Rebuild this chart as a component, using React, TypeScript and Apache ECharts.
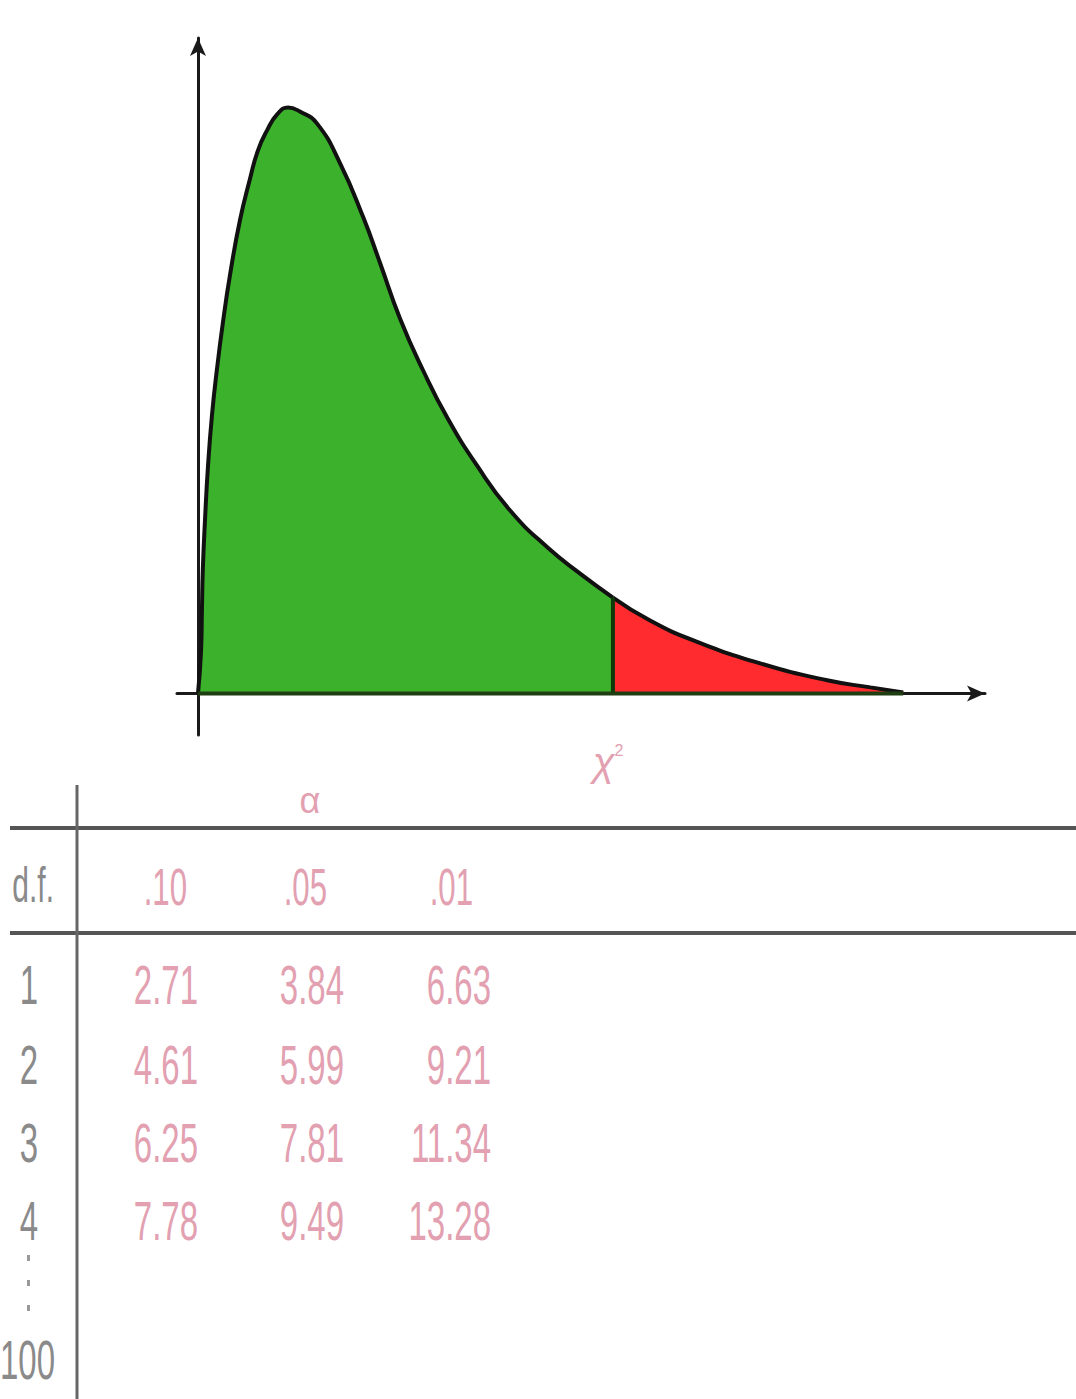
import React, { useEffect, useRef } from "react";
import * as echarts from "echarts";

// Curve: [chi-square value, density]
const curveX = [0, 0.07, 0.09, 0.11, 0.16, 0.23, 0.32, 0.43, 0.57, 0.73, 0.96, 1.19, 1.37, 1.58, 1.81, 2.06, 2.33, 2.72, 3.25, 3.78, 4.16, 4.62, 5.15, 5.7, 6.38, 7.14, 7.99, 8.74, 9.49, 10.34, 11.33, 12.86, 14.39, 15.38, 16.13];
const curveY = [0, 0.0134, 0.026, 0.0385, 0.0541, 0.0713, 0.087, 0.101, 0.116, 0.1307, 0.148, 0.161, 0.1698, 0.1761, 0.1811, 0.1833, 0.182, 0.1783, 0.1658, 0.1489, 0.1348, 0.1173, 0.101, 0.0863, 0.0713, 0.0572, 0.0457, 0.0375, 0.03, 0.0228, 0.0166, 0.0094, 0.0041, 0.0019, 0.0003];
const criticalValue = 9.49;

// Table
const alphaHeaders = [".10", ".05", ".01"];
const dfLabels = ["1", "2", "3", "4"];
const col10 = ["2.71", "4.61", "6.25", "7.78"];
const col05 = ["3.84", "5.99", "7.81", "9.49"];
const col01 = ["6.63", "9.21", "11.34", "13.28"];
const lastDf = "100";

const GREEN = "#3cb22c";
const RED = "#ff2b2f";
const PINK = "#e2a0b1";
const GRAY = "#8a8a8a";
const LINE = "#555555";

export default function App() {
  const ref = useRef<HTMLDivElement>(null);
  useEffect(() => {
    if (!ref.current) return;
    const chart = echarts.init(ref.current, null, { renderer: "svg" });
    const pts = curveX.map((x, i) => [x, curveY[i]]);
    const green = pts.filter((p) => p[0] <= criticalValue);
    const red = pts.filter((p) => p[0] >= criticalValue);
    const critY = curveY[curveX.indexOf(criticalValue)];

    const font = "'Liberation Sans', Arial, sans-serif";
    const texts: any[] = [];
    const numText = (t: string, x: number, y: number, color: string, size: number, align = "right") => ({
      type: "text",
      x,
      y,
      scaleX: 0.6,
      style: {
        text: t,
        x: 0,
        y: 0,
        fill: color,
        font: `${size}px ${font}`,
        align,
        verticalAlign: "middle",
      },
      z: 10,
    });
    const colRight = [198, 344, 491];
    const headRight = [187, 327, 473];
    const rowY = [985, 1065, 1143, 1221];
    alphaHeaders.forEach((h, i) => texts.push(numText(h, headRight[i], 887, PINK, 52)));
    [col10, col05, col01].forEach((col, c) =>
      col.forEach((v, r) => texts.push(numText(v, colRight[c], rowY[r], PINK, 55)))
    );
    dfLabels.forEach((d, r) => texts.push(numText(d, 38, rowY[r], GRAY, 55)));
    texts.push(numText(lastDf, 55, 1360, GRAY, 55));
    texts.push(numText("d.f.", 54, 885, GRAY, 50));
    texts.push({
      type: "text",
      x: 310,
      y: 800,
      style: { text: "α", fill: PINK, font: `36px ${font}`, align: "center", verticalAlign: "middle" },
    });
    texts.push({
      type: "text",
      x: 608,
      y: 762,
      style: {
        text: "{c|χ}{s|2}",
        rich: {
          c: { fill: PINK, font: `italic 40px ${font}` },
          s: { fill: PINK, font: `16px ${font}`, verticalAlign: "top", padding: [0, 0, 24, 0] },
        },
        align: "center",
        verticalAlign: "middle",
      },
    });
    const rules: any[] = [
      { type: "line", shape: { x1: 10, y1: 828, x2: 1076, y2: 828 }, style: { stroke: LINE, lineWidth: 4 } },
      { type: "line", shape: { x1: 10, y1: 933, x2: 1076, y2: 933 }, style: { stroke: LINE, lineWidth: 4 } },
      { type: "line", shape: { x1: 77, y1: 785, x2: 77, y2: 1399 }, style: { stroke: "#666", lineWidth: 3 } },
      { type: "rect", shape: { x: 27, y: 1255, width: 3, height: 6 }, style: { fill: "#999" } },
      { type: "rect", shape: { x: 27, y: 1280, width: 3, height: 6 }, style: { fill: "#999" } },
      { type: "rect", shape: { x: 27, y: 1305, width: 3, height: 6 }, style: { fill: "#999" } },
    ];

    chart.setOption({
      animation: false,
      backgroundColor: "#ffffff",
      grid: { left: 177, right: 91, top: 38, bottom: 664, containLabel: false },
      xAxis: {
        type: "value",
        min: -0.48,
        max: 18.0,
        axisLine: {
          onZero: true,
          symbol: ["none", "arrow"],
          symbolSize: [12, 18],
          lineStyle: { color: "#1a1a1a", width: 3 },
        },
        axisTick: { show: false },
        axisLabel: { show: false },
        splitLine: { show: false },
      },
      yAxis: {
        type: "value",
        min: -0.013,
        max: 0.205,
        axisLine: {
          onZero: true,
          symbol: ["none", "arrow"],
          symbolSize: [12, 18],
          lineStyle: { color: "#1a1a1a", width: 3 },
        },
        axisTick: { show: false },
        axisLabel: { show: false },
        splitLine: { show: false },
      },
      series: [
        {
          type: "line",
          data: green,
          smooth: 0.5,
          symbol: "none",
          lineStyle: { color: "#111", width: 4 },
          areaStyle: { color: GREEN, opacity: 1 },
          z: 3,
        },
        {
          type: "line",
          data: red,
          smooth: 0.5,
          symbol: "none",
          lineStyle: { color: "#111", width: 4 },
          areaStyle: { color: RED, opacity: 1 },
          z: 3,
        },
        {
          type: "line",
          data: [
            [criticalValue, 0],
            [criticalValue, critY],
          ],
          symbol: "none",
          lineStyle: { color: "#0d3a08", width: 4 },
          z: 4,
        },
        {
          type: "line",
          data: [
            [0, 0],
            [curveX[curveX.length - 1], 0],
          ],
          symbol: "none",
          lineStyle: { color: "#1f3f12", width: 4 },
          z: 4,
        },
      ],
      graphic: [...rules, ...texts],
    });
    return () => chart.dispose();
  }, []);
  return (
    <div
      ref={ref}
      style={{ position: "absolute", left: 0, top: 0, width: 1076, height: 1399, background: "#fff" }}
    />
  );
}
